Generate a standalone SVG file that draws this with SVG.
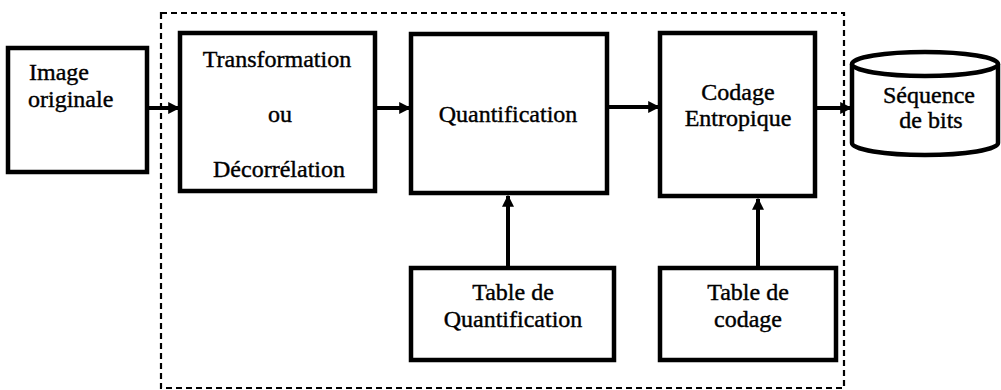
<svg xmlns="http://www.w3.org/2000/svg" width="1001" height="390" viewBox="0 0 1001 390">
<defs>
<style>
.box{fill:#fff;stroke:#000;stroke-width:4.5}
.t{font-family:"Liberation Serif","Times New Roman",serif;font-size:24px;fill:#000;stroke:#000;stroke-width:0.4;text-anchor:middle}
.l{text-anchor:start}
.c{stroke:#000;stroke-width:4;fill:none}
.dash{fill:none;stroke:#000;stroke-width:2.2;stroke-dasharray:6 4}
</style>
<marker id="ah" viewBox="0 0 10 10" refX="9" refY="5" markerWidth="3" markerHeight="3" orient="auto" markerUnits="strokeWidth">
<path d="M0,0 L10,5 L0,10 z" fill="#000"/>
</marker>
</defs>
<rect class="dash" x="161" y="13" width="683" height="375"/>
<g id="n-image">
<rect class="box" x="8" y="48" width="139" height="124"/>
<text class="t l" x="29" y="80">Image</text>
<text class="t l" x="28" y="107">originale</text>
</g>
<g id="n-transformation">
<rect class="box" x="180" y="33" width="195" height="158"/>
<text class="t" x="277" y="67">Transformation</text>
<text class="t" x="280" y="122">ou</text>
<text class="t" x="279" y="177">Décorrélation</text>
</g>
<g id="n-quantification">
<rect class="box" x="411" y="34" width="196" height="159"/>
<text class="t" x="508" y="122">Quantification</text>
</g>
<g id="n-codage">
<rect class="box" x="660" y="33" width="155" height="163"/>
<text class="t" x="738" y="100">Codage</text>
<text class="t" x="738" y="126">Entropique</text>
</g>
<g id="n-sequence">
<path class="box" d="M852,64 L852,143 A73,12 0 0 0 998,143 L998,64"/>
<ellipse class="box" cx="925" cy="64" rx="73" ry="12"/>
<text class="t" x="929" y="103">Séquence</text>
<text class="t" x="931" y="128">de bits</text>
</g>
<g id="n-table-quant">
<rect class="box" x="411" y="268" width="203" height="92"/>
<text class="t" x="513" y="300">Table de</text>
<text class="t" x="513" y="327">Quantification</text>
</g>
<g id="n-table-codage">
<rect class="box" x="660" y="268" width="176" height="92"/>
<text class="t" x="748" y="300">Table de</text>
<text class="t" x="748" y="327">codage</text>
</g>
<g id="connectors">
<line class="c" x1="147" y1="108" x2="179" y2="108" marker-end="url(#ah)"/>
<line class="c" x1="375" y1="108" x2="410" y2="108" marker-end="url(#ah)"/>
<line class="c" x1="607" y1="107" x2="659" y2="107" marker-end="url(#ah)"/>
<line class="c" x1="815" y1="108" x2="851" y2="108" marker-end="url(#ah)"/>
<line class="c" x1="508" y1="268" x2="508" y2="196" marker-end="url(#ah)"/>
<line class="c" x1="758" y1="268" x2="758" y2="199" marker-end="url(#ah)"/>
</g>
</svg>
